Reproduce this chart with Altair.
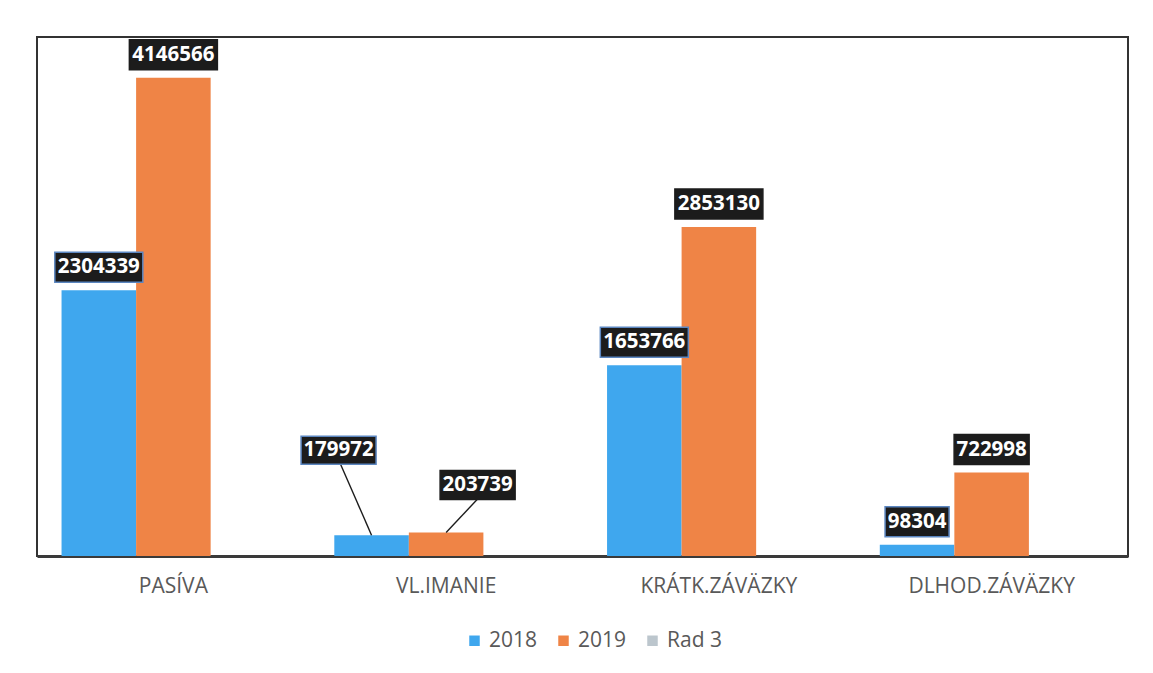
import altair as alt
import pandas as pd

categories = ["PASÍVA", "VL.IMANIE", "KRÁTK.ZÁVÄZKY", "DLHOD.ZÁVÄZKY"]
series_names = ["2018", "2019", "Rad 3"]
values_2018 = [2304339, 179972, 1653766, 98304]
values_2019 = [4146566, 203739, 2853130, 722998]
colors = ["#3fa7ee", "#ef8446", "#bcc6cd"]

rows = []
for c, a, b in zip(categories, values_2018, values_2019):
    rows.append({"cat": c, "series": "2018", "value": a})
    rows.append({"cat": c, "series": "2019", "value": b})
df = pd.DataFrame(rows)

FONT = "Open Sans"
xenc = alt.X("cat:N", sort=categories,
             scale=alt.Scale(paddingInner=0.18, paddingOuter=0.09),
             axis=alt.Axis(title=None, ticks=False, labelAngle=0, labelFont=FONT,
                           labelFontSize=21, labelColor="#595959", labelPadding=19,
                           domainColor="#3a3a3a", domainWidth=3))
xoff = alt.XOffset("series:N", scale=alt.Scale(domain=series_names, paddingInner=0, paddingOuter=0))
yenc = alt.Y("value:Q", scale=alt.Scale(domain=[0, 4500000], nice=False, zero=True), axis=None)

base = alt.Chart(df)

bars = base.mark_bar().encode(
    x=xenc, xOffset=xoff, y=yenc,
    color=alt.Color("series:N", scale=alt.Scale(domain=series_names, range=colors),
                    legend=alt.Legend(title=None, orient="none", legendX=427, legendY=593,
                                      direction="horizontal", symbolType="square",
                                      symbolSize=110, symbolStrokeWidth=0,
                                      labelFont=FONT, labelFontSize=21, labelColor="#595959",
                                      labelOffset=4, columnPadding=15))
)

def box(w, top=-38, bottom=-8, cx=0.0):
    l = cx - w / 2
    r = cx + w / 2
    return f"M{l},{top}L{r},{top}L{r},{bottom}L{l},{bottom}Z"

stroke_cond = alt.condition("datum.series == '2018'", alt.value("#5b86c0"), alt.value("#1c1c1c"))

normal = base.transform_filter("datum.cat != 'VL.IMANIE'").transform_calculate(
    nlen="toString(length(toString(datum.value)))"
)

boxes = normal.mark_point(filled=True, fill="#1c1c1c", opacity=1, size=4, strokeWidth=1.5).encode(
    x=xenc, xOffset=xoff, y=yenc,
    shape=alt.Shape("nlen:N", scale=alt.Scale(domain=["5", "6", "7"],
                                              range=[box(64), box(75), box(88)]), legend=None),
    stroke=stroke_cond,
)
texts = normal.mark_text(dy=-23, font=FONT, fontWeight="bold", fontSize=20.5, color="white",
                         baseline="middle", align="center").encode(
    x=xenc, xOffset=xoff, y=yenc, text=alt.Text("value:Q", format="d"))

vl = base.transform_filter("datum.cat == 'VL.IMANIE'")
vl18 = vl.transform_filter("datum.series == '2018'")
vl19 = vl.transform_filter("datum.series == '2019'")

lead18 = vl18.mark_point(shape="M0,0L-31,-71", size=4, filled=False, fill="transparent",
                         stroke="#1c1c1c", strokeWidth=1.4, opacity=1).encode(x=xenc, xOffset=xoff, y=yenc)
lead19 = vl19.mark_point(shape="M0,0L31,-33", size=4, filled=False, fill="transparent",
                         stroke="#1c1c1c", strokeWidth=1.4, opacity=1).encode(x=xenc, xOffset=xoff, y=yenc)
box18 = vl18.mark_point(shape=box(75, -99, -71, -33), size=4, filled=True, fill="#1c1c1c",
                        stroke="#5b86c0", strokeWidth=1.5, opacity=1).encode(x=xenc, xOffset=xoff, y=yenc)
box19 = vl19.mark_point(shape=box(75, -62, -33, 31.5), size=4, filled=True, fill="#1c1c1c",
                        stroke="#1c1c1c", strokeWidth=1.5, opacity=1).encode(x=xenc, xOffset=xoff, y=yenc)
txt18 = vl18.mark_text(dx=-33, dy=-85, font=FONT, fontWeight="bold", fontSize=20.5, color="white",
                       baseline="middle", align="center").encode(
    x=xenc, xOffset=xoff, y=yenc, text=alt.Text("value:Q", format="d"))
txt19 = vl19.mark_text(dx=31.5, dy=-47.5, font=FONT, fontWeight="bold", fontSize=20.5, color="white",
                       baseline="middle", align="center").encode(
    x=xenc, xOffset=xoff, y=yenc, text=alt.Text("value:Q", format="d"))

chart = alt.layer(bars, lead18, lead19, boxes, texts, box18, box19, txt18, txt19).properties(
    width=1091, height=519,
    padding={"left": 29, "top": 28, "right": 10, "bottom": 10},
    background="white",
).configure_view(stroke="#333333", strokeWidth=2)

chart.save("out.html", embed_options={"renderer": "svg", "actions": False})
